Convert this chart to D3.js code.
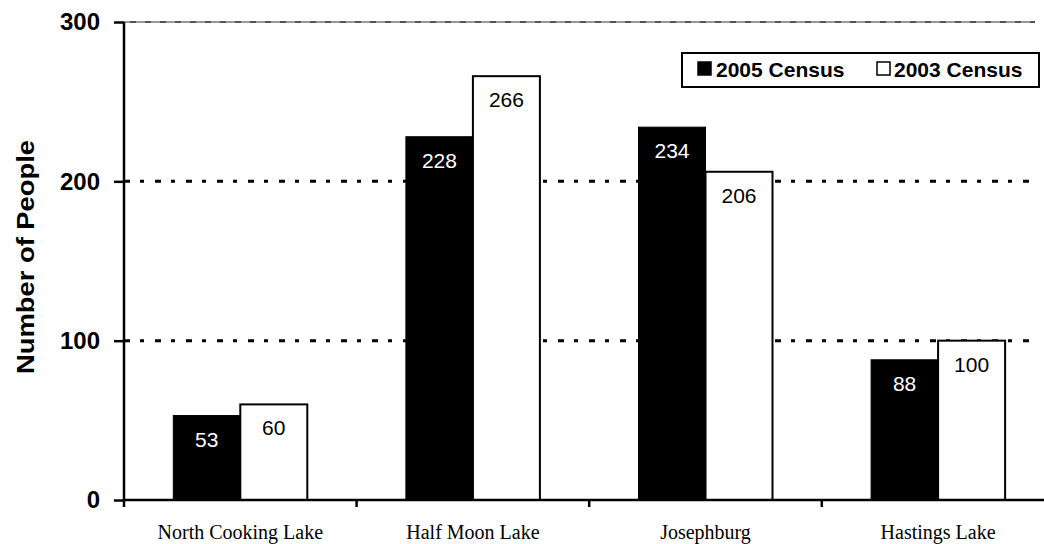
<!DOCTYPE html>
<html>
<head>
<meta charset="utf-8">
<script src="https://cdn.jsdelivr.net/npm/d3@7"></script>
<style>
  html, body { margin: 0; padding: 0; background: #fff; }
  svg { display: block; }
</style>
</head>
<body>
<svg id="chart" width="1044" height="544"></svg>
<script>
// Population by community, two census years
const categories = ["North Cooking Lake", "Half Moon Lake", "Josephburg", "Hastings Lake"];
const census2005 = [53, 228, 234, 88];
const census2003 = [60, 266, 206, 100];
const seriesNames = ["2005 Census", "2003 Census"];
const yTicks = [0, 100, 200, 300];
const yTitle = "Number of People";

const svg = d3.select("#chart");

const plotLeft = 124, plotBottom = 500, plotTop = 22;
const step = 232.6;
const gridRight = 1035;

const x = d3.scaleBand()
  .domain(categories)
  .range([plotLeft, plotLeft + step * categories.length])
  .paddingInner(0)
  .paddingOuter(0);

const y = d3.scaleLinear().domain([0, 300]).range([plotBottom, plotTop]);

const barW = 67;

// horizontal gridlines (100, 200)
svg.append("g")
  .selectAll("line")
  .data(yTicks.filter(d => d > 0 && d < 300))
  .join("line")
  .attr("x1", plotLeft).attr("x2", gridRight)
  .attr("y1", d => y(d)).attr("y2", d => y(d))
  .attr("stroke", "#000")
  .attr("stroke-width", 3)
  .attr("stroke-dasharray", "6,10,4,11");

// top border line at 300
svg.append("line")
  .attr("x1", plotLeft).attr("x2", gridRight)
  .attr("y1", y(300)).attr("y2", y(300))
  .attr("stroke", "#999").attr("stroke-width", 2);
svg.append("line")
  .attr("x1", plotLeft + 6).attr("x2", gridRight)
  .attr("y1", y(300)).attr("y2", y(300))
  .attr("stroke", "#555").attr("stroke-width", 2)
  .attr("stroke-dasharray", "6,9");

// bars
const center = d => x(d) + x.bandwidth() / 2;

const rows = categories.map((c, i) => ({ c, a: census2005[i], b: census2003[i] }));

const g = svg.append("g");
g.selectAll("rect.b")
  .data(rows)
  .join("rect")
  .attr("class", "b")
  .attr("x", d => center(d.c))
  .attr("y", d => y(d.b))
  .attr("width", barW)
  .attr("height", d => plotBottom - y(d.b))
  .attr("fill", "#fff")
  .attr("stroke", "#000")
  .attr("stroke-width", 2);

g.selectAll("rect.a")
  .data(rows)
  .join("rect")
  .attr("class", "a")
  .attr("x", d => center(d.c) - barW)
  .attr("y", d => y(d.a))
  .attr("width", barW)
  .attr("height", d => plotBottom - y(d.a))
  .attr("fill", "#000")
  .attr("stroke", "#000")
  .attr("stroke-width", 1);

// value labels
const labelFont = "'Liberation Sans', Arial, sans-serif";
g.selectAll("text.la")
  .data(rows)
  .join("text")
  .attr("class", "la")
  .attr("x", d => center(d.c) - barW / 2)
  .attr("y", d => y(d.a) + 31)
  .attr("text-anchor", "middle")
  .attr("font-family", labelFont)
  .attr("font-size", 21)
  .attr("fill", "#fff")
  .text(d => d.a);

g.selectAll("text.lb")
  .data(rows)
  .join("text")
  .attr("class", "lb")
  .attr("x", d => center(d.c) + barW / 2)
  .attr("y", d => y(d.b) + 31)
  .attr("text-anchor", "middle")
  .attr("font-family", labelFont)
  .attr("font-size", 21)
  .attr("fill", "#000")
  .text(d => d.b);

// y axis
const yAxis = svg.append("g")
  .attr("transform", `translate(${plotLeft},0)`)
  .call(d3.axisLeft(y).tickValues(yTicks).tickSize(10).tickPadding(14));
yAxis.select(".domain").attr("d", `M0,${plotTop}V${plotBottom}`).attr("stroke", "#000").attr("stroke-width", 2.5);
yAxis.selectAll(".tick line").attr("stroke", "#000").attr("stroke-width", 2.5);
yAxis.selectAll(".tick text")
  .attr("font-family", labelFont)
  .attr("font-weight", "bold")
  .attr("font-size", 24)
  .attr("fill", "#000");

// x axis
const xAxisG = svg.append("g").attr("transform", `translate(0,${plotBottom})`);
xAxisG.append("line")
  .attr("x1", plotLeft).attr("x2", x.range()[1])
  .attr("stroke", "#000").attr("stroke-width", 2.5);
xAxisG.selectAll("line.tk")
  .data(categories.map(c => x(c)))
  .join("line")
  .attr("class", "tk")
  .attr("x1", d => d).attr("x2", d => d)
  .attr("y1", 0).attr("y2", 7)
  .attr("stroke", "#000").attr("stroke-width", 2.5);
xAxisG.selectAll("text")
  .data(categories)
  .join("text")
  .attr("x", d => center(d))
  .attr("y", 39)
  .attr("text-anchor", "middle")
  .attr("font-family", "'Liberation Serif', 'Times New Roman', serif")
  .attr("font-size", 20)
  .attr("fill", "#000")
  .text(d => d);

// y axis title
svg.append("text")
  .attr("transform", `translate(34,257) rotate(-90)`)
  .attr("text-anchor", "middle")
  .attr("font-family", labelFont)
  .attr("font-weight", "bold")
  .attr("font-size", 24)
  .attr("textLength", 234)
  .attr("lengthAdjust", "spacingAndGlyphs")
  .attr("fill", "#000")
  .text(yTitle);

// legend
const legend = svg.append("g");
legend.append("rect")
  .attr("x", 682).attr("y", 53)
  .attr("width", 357).attr("height", 34)
  .attr("fill", "#fff").attr("stroke", "#000").attr("stroke-width", 2);

const legItems = [
  { name: seriesNames[0], fill: "#000", sx: 698, tx: 716 },
  { name: seriesNames[1], fill: "#fff", sx: 877, tx: 894 }
];
legend.selectAll("rect.sw")
  .data(legItems)
  .join("rect")
  .attr("class", "sw")
  .attr("x", d => d.sx).attr("y", 62)
  .attr("width", 13).attr("height", 13)
  .attr("fill", d => d.fill)
  .attr("stroke", "#000").attr("stroke-width", 1.5);
legend.selectAll("text")
  .data(legItems)
  .join("text")
  .attr("x", d => d.tx).attr("y", 77)
  .attr("font-family", labelFont)
  .attr("font-weight", "bold")
  .attr("font-size", 21)
  .attr("fill", "#000")
  .text(d => d.name);
</script>
</body>
</html>
